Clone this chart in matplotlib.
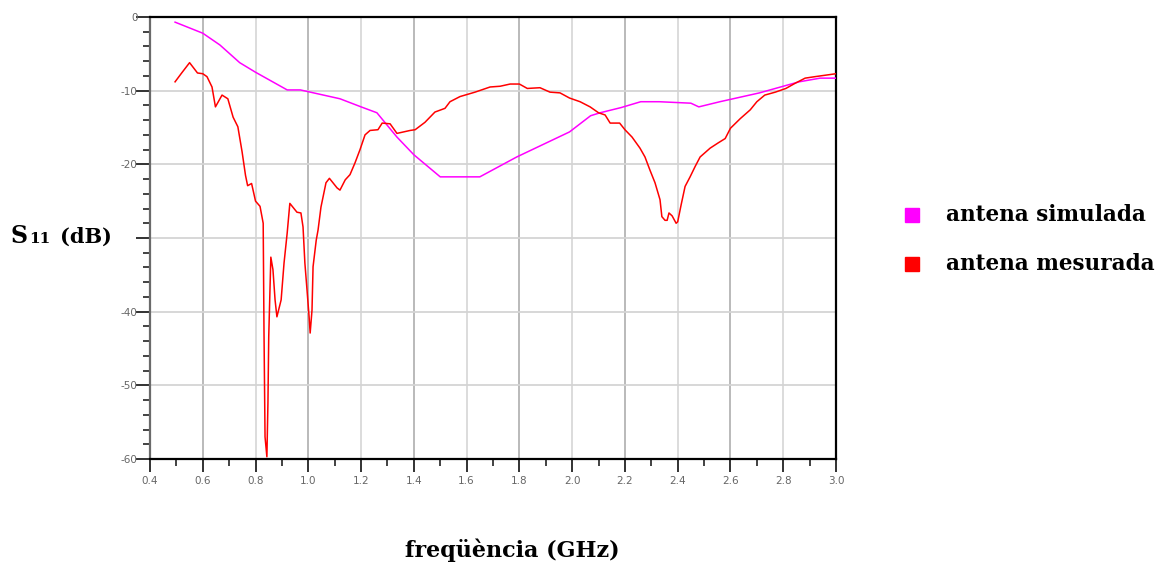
import matplotlib
matplotlib.use("Agg")
import matplotlib.pyplot as plt
import numpy as np

# ---- data ----
sim_f = [0.495, 0.60, 0.665, 0.74, 0.80, 0.92, 0.97, 1.12, 1.20, 1.26, 1.336, 1.40, 1.50, 1.65,
         1.79, 1.99, 2.07, 2.106, 2.185, 2.26, 2.33, 2.45, 2.48, 2.56, 2.71, 2.79, 2.86, 2.94, 3.0]
sim_db = [-0.7, -2.2, -3.8, -6.2, -7.5, -9.9, -9.9, -11.1, -12.2, -13.0, -16.3, -18.7, -21.7, -21.7,
          -19.0, -15.6, -13.4, -13.0, -12.3, -11.5, -11.5, -11.7, -12.2, -11.5, -10.3, -9.5, -8.8, -8.3, -8.3]

meas_f = [0.495, 0.52, 0.55, 0.58, 0.60, 0.616, 0.635, 0.648, 0.673, 0.695, 0.715, 0.733, 0.749,
          0.762, 0.770, 0.785, 0.80, 0.817, 0.829, 0.832, 0.836, 0.843, 0.847, 0.850, 0.858,
          0.866, 0.874, 0.881, 0.897, 0.908, 0.92, 0.93, 0.957, 0.972, 0.98, 0.987, 0.995,
          1.003, 1.007, 1.014, 1.018, 1.03, 1.037, 1.048, 1.067, 1.08, 1.109, 1.12, 1.14,
          1.158, 1.177, 1.196, 1.215, 1.234, 1.264, 1.28, 1.31, 1.336, 1.386, 1.405, 1.442,
          1.48, 1.518, 1.537, 1.575, 1.632, 1.689, 1.727, 1.765, 1.80, 1.83, 1.878, 1.916,
          1.954, 1.99, 2.03, 2.068, 2.10, 2.125, 2.144, 2.18, 2.20, 2.227, 2.257, 2.276,
          2.295, 2.314, 2.333, 2.34, 2.352, 2.36, 2.367, 2.379, 2.394, 2.40, 2.413, 2.428,
          2.447, 2.466, 2.485, 2.523, 2.553, 2.58, 2.60, 2.637, 2.675, 2.70, 2.73, 2.77,
          2.81, 2.845, 2.883, 2.92, 2.96, 3.0]
meas_db = [-8.8, -7.6, -6.2, -7.6, -7.7, -8.1, -9.5, -12.2, -10.6, -11.1, -13.6, -14.9, -18.3,
           -21.5, -22.9, -22.6, -25.0, -25.7, -28.0, -42.5, -57.0, -59.7, -52.4, -43.4, -32.6,
           -34.3, -38.4, -40.7, -38.4, -33.4, -29.3, -25.3, -26.5, -26.6, -28.5, -33.4, -37.0,
           -40.7, -42.9, -39.8, -33.9, -30.3, -28.9, -25.8, -22.5, -21.9, -23.2, -23.5, -22.1,
           -21.4, -19.8, -18.0, -16.0, -15.4, -15.3, -14.4, -14.5, -15.8, -15.4, -15.3, -14.3,
           -12.9, -12.4, -11.5, -10.8, -10.2, -9.5, -9.4, -9.1, -9.1, -9.7, -9.6, -10.2,
           -10.3, -11.0, -11.5, -12.2, -13.0, -13.3, -14.4, -14.4, -15.3, -16.3, -17.8, -19.0,
           -20.8, -22.5, -24.8, -27.1, -27.6, -27.6, -26.6, -27.0, -28.0, -27.8, -25.5, -23.0,
           -21.7, -20.3, -19.0, -17.8, -17.1, -16.5, -15.1, -13.8, -12.6, -11.5, -10.6, -10.2,
           -9.7, -9.0, -8.3, -8.1, -7.9, -7.7]

x_ticks = [0.4, 0.6, 0.8, 1.0, 1.2, 1.4, 1.6, 1.8, 2.0, 2.2, 2.4, 2.6, 2.8, 3.0]
x_labels = ["0.4", "0.6", "0.8", "1.0", "1.2", "1.4", "1.6", "1.8", "2.0", "2.2", "2.4", "2.6", "2.8", "3.0"]
y_ticks = [0, -10, -20, -30, -40, -50, -60]
y_labels = ["0", "-10", "-20", "", "-40", "-50", "-60"]

legend_labels = ["antena simulada", "antena mesurada"]
colors = ["#ff00ff", "#ff0000"]

# ---- figure ----
W, H = 1168, 567
fig = plt.figure(figsize=(W / 100, H / 100), dpi=100)
ax = fig.add_axes([150 / W, 1 - 459 / H, (836 - 150) / W, (459 - 17) / H])
ax.set_xlim(0.4, 3.0)
ax.set_ylim(-60, 0)

# grid (alternating shades for vertical lines)
for i, xv in enumerate(x_ticks[1:-1]):
    ax.axvline(xv, color="#b4b4b4" if i % 2 == 0 else "#d9d9d9", lw=1.3, zorder=0)
for yv in y_ticks[1:-1]:
    ax.axhline(yv, color="#d4d4d4", lw=1.3, zorder=0)

ax.plot(sim_f, sim_db, color=colors[0], lw=1.1, zorder=3)
ax.plot(meas_f, meas_db, color=colors[1], lw=1.1, zorder=3)

ax.set_xticks(x_ticks)
ax.set_xticklabels(x_labels)
ax.set_xticks(np.arange(0.5, 3.0, 0.2), minor=True)
ax.set_yticks(y_ticks)
ax.set_yticklabels(y_labels)
ax.set_yticks(np.arange(-58, 0, 2), minor=True)

ax.tick_params(axis="both", which="major", direction="out", color="#222222", width=1.3,
               labelsize=7.5, labelcolor="#666666")
ax.tick_params(axis="y", which="major", length=10, pad=-1)
ax.tick_params(axis="x", which="major", length=9, pad=3)
ax.tick_params(axis="both", which="minor", direction="out", color="#222222", width=1.2, length=5)

for s in ["top", "right", "bottom"]:
    ax.spines[s].set_color("#000000")
    ax.spines[s].set_linewidth(1.6)
ax.spines["left"].set_color("#6a6a6a")
ax.spines["left"].set_linewidth(1.6)

serif = ["DejaVu Serif"]
# y label: S11 (dB)
fig.text(10 / W, 1 - 243 / H, "S", fontsize=17, fontweight="bold", family=serif, va="baseline")
fig.text(29 / W, 1 - 243 / H, "11", fontsize=11, fontweight="bold", family=serif, va="baseline")
fig.text(60 / W, 1 - 243 / H, "(dB)", fontsize=15, fontweight="bold", family=serif, va="baseline")

# x label
fig.text(512 / W, 1 - 557 / H, "freqüència (GHz)", fontsize=16, fontweight="bold", family=serif,
         ha="center", va="baseline")

# legend
for i, (lab, c) in enumerate(zip(legend_labels, colors)):
    yc = 215 + i * 49
    fig.patches.append(plt.Rectangle((905 / W, 1 - (yc + 7) / H), 14 / W, 14 / H,
                                     transform=fig.transFigure, color=c, figure=fig))
    fig.text(946 / W, 1 - yc / H, lab, fontsize=15.5, fontweight="bold", family=serif,
             va="center")

fig.savefig("out.png", dpi=100)
